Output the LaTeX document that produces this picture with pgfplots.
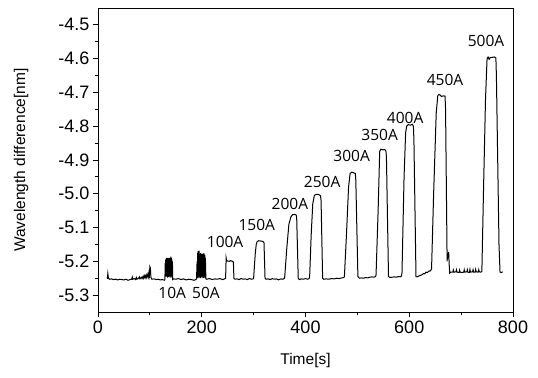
\documentclass[border=0pt]{standalone}
\usepackage{fontspec}
\setmainfont{Liberation Sans}
\newfontfamily\annfont{Open Sans}
\usepackage{pgfplots}
\pgfplotsset{compat=1.18}
\begin{document}
\begin{tikzpicture}
\begin{axis}[
 scale only axis, width=415pt, height=304pt,
 xmin=0, xmax=800, ymin=-5.35, ymax=-4.45,
 xtick={0,200,400,600,800}, minor x tick num=1,
 ytick={-5.3,-5.2,-5.1,-5.0,-4.9,-4.8,-4.7,-4.6,-4.5}, minor y tick num=1,
 xtick pos=left, ytick pos=left,
 tick align=outside,
 major tick length=5pt, minor tick length=3.5pt,
 tick style={black, line width=0.8pt},
 axis line style={line width=0.9pt},
 /pgf/number format/assume math mode=true,
 ticklabel style={font=\fontsize{18}{18}\selectfont},
 yticklabel style={/pgf/number format/.cd, fixed, fixed zerofill, precision=1},
 xlabel={Time[s]}, ylabel={Wavelength difference[nm]},
 label style={font=\fontsize{15.5}{15.5}\selectfont},
 xlabel style={at={(axis description cs:0.5,-0.161)}, anchor=center},
 ylabel style={at={(axis description cs:-0.185,0.5)}, anchor=center},
]
\addplot[black, line width=1pt] coordinates {
(18,-5.252) (19,-5.236) (20,-5.249) (22,-5.253) (26,-5.252) (30,-5.254) (34,-5.253) (38,-5.255) (42,-5.253) (46,-5.254) (50,-5.255) (54,-5.253) (58,-5.256) (62,-5.254) (65,-5.253) (66,-5.247) (67,-5.253) (70,-5.251) (72,-5.254) (74,-5.248) (75,-5.253) (78,-5.250) (80,-5.246) (81,-5.252) (84,-5.247) (85,-5.251) (87,-5.244) (88,-5.250) (90,-5.242) (91,-5.249) (93,-5.240) (94,-5.248) (96,-5.238) (97,-5.246) (98,-5.235) (99,-5.243) (100,-5.216) (101,-5.220) (102,-5.248) (104,-5.253) (108,-5.252) (112,-5.254) (116,-5.253) (120,-5.255) (124,-5.254) (128,-5.256)
(129,-5.254) (129.5,-5.205) (130,-5.245) (130.5,-5.195) (131,-5.24) (131.5,-5.192) (132,-5.245) (132.5,-5.19) (133,-5.24) (133.5,-5.193) (134,-5.248) (134.5,-5.19) (135,-5.242) (135.5,-5.191) (136,-5.246) (136.5,-5.194) (137,-5.24) (137.5,-5.19) (138,-5.244) (138.5,-5.192) (139,-5.248) (139.5,-5.19) (140,-5.243) (140.5,-5.186) (141,-5.245) (141.5,-5.19) (142,-5.24) (142.5,-5.195) (143,-5.25) (143.5,-5.2) (144,-5.254)
(146,-5.252) (150,-5.253) (155,-5.251) (160,-5.254) (165,-5.252) (170,-5.255) (175,-5.253) (180,-5.254) (185,-5.256) (189,-5.254) (190,-5.25)
(191,-5.20) (191.5,-5.25) (192,-5.175) (192.5,-5.245) (193,-5.17) (193.5,-5.24) (194,-5.172) (194.5,-5.25) (195,-5.168) (195.5,-5.245) (196,-5.178) (196.5,-5.24) (197,-5.18) (197.5,-5.25) (198,-5.176) (198.5,-5.245) (199,-5.18) (199.5,-5.24) (200,-5.178) (200.5,-5.25) (201,-5.182) (201.5,-5.245) (202,-5.178) (202.5,-5.24) (203,-5.18) (203.5,-5.25) (204,-5.176) (204.5,-5.245) (205,-5.18) (205.5,-5.24) (206,-5.182) (206.5,-5.25) (207,-5.19) (208,-5.252)
(210,-5.253) (215,-5.251) (220,-5.254) (225,-5.252) (230,-5.253) (235,-5.251) (240,-5.254) (244,-5.252) (246,-5.25)
(247,-5.19) (248,-5.198) (250,-5.199) (253,-5.2) (256,-5.198) (259,-5.2) (261,-5.202) (262,-5.25) (264,-5.253) (268,-5.252) (272,-5.254) (276,-5.251) (280,-5.253) (284,-5.252) (288,-5.254) (292,-5.251) (296,-5.253) (299,-5.252)
(300,-5.25) (303,-5.18) (305,-5.15) (307,-5.141) (310,-5.139) (314,-5.14) (318,-5.141) (320,-5.145) (322,-5.25) (324,-5.253) (328,-5.252) (332,-5.254) (336,-5.251) (340,-5.253) (344,-5.252) (348,-5.255) (352,-5.252) (356,-5.253) (359,-5.251)
(360,-5.245) (364,-5.16) (368,-5.09) (372,-5.068) (375,-5.062) (379,-5.061) (382,-5.063) (383,-5.07) (386,-5.25) (388,-5.254) (392,-5.252) (396,-5.253) (400,-5.251) (404,-5.253) (407,-5.251)
(408,-5.245) (411,-5.12) (414,-5.03) (417,-5.005) (420,-5.002) (425,-5.002) (429,-5.006) (430,-5.02) (433,-5.25) (435,-5.253) (440,-5.252) (445,-5.253) (450,-5.251) (455,-5.252) (460,-5.25) (465,-5.251) (470,-5.249) (474,-5.248)
(475,-5.245) (479,-5.12) (483,-4.98) (486,-4.94) (489,-4.936) (493,-4.938) (496,-4.94) (497,-4.96) (501,-5.245) (504,-5.25) (508,-5.249) (512,-5.25) (516,-5.248) (520,-5.249) (524,-5.247) (528,-5.246) (532,-5.247) (535,-5.245)
(536,-5.24) (540,-5.05) (543,-4.875) (545,-4.868) (549,-4.87) (553,-4.869) (555,-4.873) (556,-4.89) (560,-5.245) (563,-5.248) (567,-5.247) (571,-5.246) (575,-5.247) (579,-5.245) (583,-5.246) (585,-5.243)
(586,-5.235) (590,-4.95) (593,-4.82) (595,-4.80) (598,-4.795) (602,-4.797) (606,-4.794) (608,-4.8) (609,-4.84) (613,-5.245) (615,-5.246) (619,-5.243) (623,-5.241) (626,-5.238) (628,-5.236) (630,-5.237) (632,-5.232) (635,-5.233) (638,-5.229) (641,-5.228) (643,-5.222)
(647,-5.0) (652,-4.76) (655,-4.71) (657,-4.706) (660,-4.708) (662,-4.712) (666,-4.71) (669,-4.711) (670,-4.75) (673,-5.2) (674,-5.175) (675,-5.19) (676,-5.172) (677,-5.21) (678,-5.235) (680,-5.232)
(684,-5.232) (685,-5.226) (686,-5.232) (690,-5.231) (691,-5.225) (692,-5.232) (696,-5.233) (697,-5.226) (698,-5.232) (702,-5.233) (705,-5.232) (706,-5.225) (707,-5.232) (711,-5.231) (712,-5.225) (713,-5.232) (716,-5.233) (717,-5.224) (718,-5.232) (722,-5.231) (723,-5.225) (724,-5.232) (727,-5.232) (728,-5.224) (729,-5.231) (733,-5.232) (734,-5.225) (735,-5.231) (738,-5.232) (740,-5.23)
(743,-5.0) (747,-4.72) (750,-4.6) (752,-4.595) (754,-4.602) (756,-4.597) (760,-4.596) (764,-4.595) (767,-4.598) (768,-4.65) (773,-5.15) (775,-5.232) (778,-5.233) (780,-5.231)
};
\begin{scope}[every node/.style={font=\annfont\fontsize{15.5}{15.5}\selectfont, inner sep=0pt}]
\node at (axis cs:143,-5.294) {10A};
\node at (axis cs:208,-5.294) {50A};
\node at (axis cs:245,-5.144) {100A};
\node at (axis cs:306,-5.093) {150A};
\node at (axis cs:370,-5.031) {200A};
\node at (axis cs:432,-4.966) {250A};
\node at (axis cs:489,-4.887) {300A};
\node at (axis cs:543,-4.825) {350A};
\node at (axis cs:592,-4.775) {400A};
\node at (axis cs:669,-4.662) {450A};
\node at (axis cs:748,-4.547) {500A};
\end{scope}
\end{axis}
\pgfresetboundingbox
\path[use as bounding box] ([shift={(-98pt,-66pt)}]current axis.south west) rectangle ([shift={(25pt,8pt)}]current axis.north east);
\end{tikzpicture}
\end{document}
